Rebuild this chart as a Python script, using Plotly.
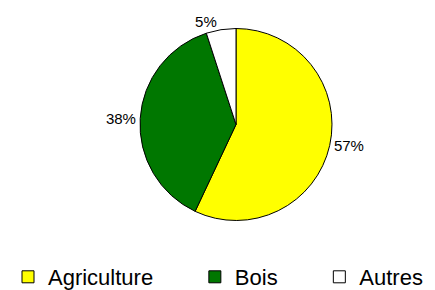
import plotly.graph_objects as go

labels = ["Agriculture", "Bois", "Autres"]
values = [57, 38, 5]
colors = ["#FFFF00", "#007700", "#FFFFFF"]

# trailing non-breaking spaces widen the gap between legend entries
gap = "\u00a0" * 6
legend_labels = [labels[0] + gap, labels[1] + gap, labels[2]]

fig = go.Figure(go.Pie(
    labels=legend_labels,
    values=values,
    sort=False,
    direction="clockwise",
    rotation=0,
    marker=dict(colors=colors, line=dict(color="black", width=1)),
    textposition="outside",
    texttemplate="%{percent:.0%}",
    textfont=dict(family="Liberation Sans, Arial", size=15, color="black"),
    domain=dict(x=[132/435, 324/435], y=[1-212.5/290, 1-20.5/290]),
    hoverinfo="label+percent",
))

fig.update_layout(
    width=435, height=290,
    margin=dict(l=0, r=0, t=0, b=0),
    paper_bgcolor="white",
    plot_bgcolor="white",
    font=dict(family="Liberation Sans, Arial", color="black"),
    legend=dict(
        orientation="h",
        x=0.0, xanchor="left",
        y=0.0, yanchor="bottom",
        font=dict(size=22, family="Liberation Sans, Arial", color="black"),
        itemwidth=30,
        traceorder="normal",
    ),
)

fig.write_html("out.html")
